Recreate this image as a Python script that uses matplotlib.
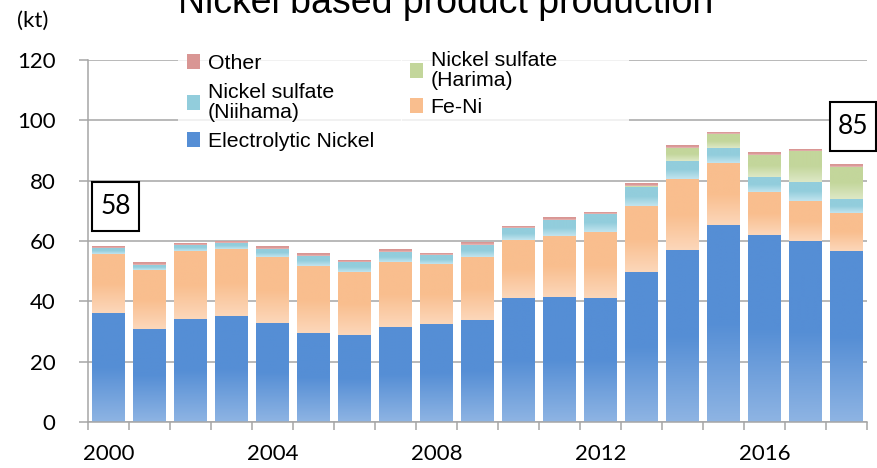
import numpy as np
import matplotlib
matplotlib.use("Agg")
import matplotlib.pyplot as plt
import matplotlib.patches as mpatches

# Production by product, kt
years = list(range(2000, 2019))
electrolytic = [36.2, 30.9, 34.2, 35.2, 32.9, 29.6, 28.9, 31.6, 32.6, 33.9,
                41.1, 41.4, 41.1, 49.8, 57.1, 65.4, 62.1, 60.1, 56.6]
fe_ni = [19.5, 19.5, 22.4, 22.0, 21.7, 22.1, 20.8, 21.6, 19.7, 20.7,
         19.1, 20.4, 21.8, 21.8, 23.3, 20.4, 14.1, 13.0, 12.8]
ns_niihama = [2.0, 1.8, 2.0, 2.1, 2.7, 3.4, 3.3, 3.2, 2.9, 4.0,
              4.1, 5.2, 6.0, 6.2, 6.0, 5.0, 4.9, 6.3, 4.5]
ns_harima = [0.0, 0.0, 0.0, 0.0, 0.0, 0.0, 0.0, 0.0, 0.0, 0.0,
             0.0, 0.0, 0.0, 0.5, 4.5, 4.6, 7.5, 10.4, 10.7]
other = [0.5, 0.7, 0.6, 0.8, 0.9, 0.8, 0.6, 0.8, 0.7, 1.0,
         0.8, 0.8, 0.7, 0.8, 0.9, 0.7, 0.8, 0.6, 0.8]

labels = ["Electrolytic Nickel", "Fe-Ni", "Nickel sulfate\n(Niihama)",
          "Nickel sulfate\n(Harima)", "Other"]
series = [electrolytic, fe_ni, ns_niihama, ns_harima, other]
tick_years = [2000, 2004, 2008, 2012, 2016]
boxed_years = [2000, 2018]

# (top colour, bottom colour) for each series
shades = [("#558ED5", "#8EB4E3"),
          ("#F9BE8E", "#FCD7BA"),
          ("#92CDDC", "#C2E4EE"),
          ("#C3D69B", "#DDE8C6"),
          ("#D99694", "#E8BDBC")]

W, H = 877, 468
fig = plt.figure(figsize=(W / 100, H / 100), dpi=100)
ax = fig.add_axes([88 / W, 1 - 422 / H, (867 - 88) / W, (422 - 60) / H])

GRID = "#A6A6A6"
ax.set_axisbelow(True)
ax.yaxis.grid(True, color=GRID, linewidth=1.1)


def to_rgb(c):
    return np.array(matplotlib.colors.to_rgb(c))


def fill_gradient(patch, top, bottom):
    h = patch.get_height()
    if h <= 0:
        return
    x, y, w = patch.get_x(), patch.get_y(), patch.get_width()
    f = np.linspace(0, 1, 128)
    t = np.clip((f - 0.5) / 0.5, 0, 1)[:, None]
    rgb = (1 - t) * to_rgb(top) + t * to_rgb(bottom)
    im = ax.imshow(rgb[:, None, :], extent=(x, x + w, y, y + h), origin="upper",
                   aspect="auto", interpolation="bilinear", zorder=2)
    im.set_clip_path(patch)


bottom = np.zeros(len(years))
handles = []
for vals, lab, (c_top, c_bot) in zip(series, labels, shades):
    vals = np.asarray(vals, dtype=float)
    bars = ax.bar(years, vals, width=0.79, bottom=bottom, facecolor="none",
                  edgecolor="none", linewidth=0, zorder=2)
    for p in bars.patches:
        fill_gradient(p, c_top, c_bot)
    handles.append(mpatches.Patch(facecolor=c_top, label=lab))
    bottom += vals
totals = bottom

ax.set_xlim(years[0] - 0.5, years[-1] + 0.5)
ax.set_ylim(0, 120)
ax.set_yticks(range(0, 121, 20))
ax.set_xticks(tick_years)
ax.set_xticks([y - 0.5 for y in years] + [years[-1] + 0.5], minor=True)

ax.tick_params(axis="y", length=6.5, width=1.1, color=GRID, pad=17, labelsize=16)
ax.tick_params(axis="x", which="major", length=0, pad=16, labelsize=16)
ax.tick_params(axis="x", which="minor", length=5.5, width=1.1, color=GRID)
for lbl in ax.get_xticklabels() + ax.get_yticklabels():
    lbl.set_fontfamily("Lato")

for s in ("top", "right"):
    ax.spines[s].set_visible(False)
for s in ("left", "bottom"):
    ax.spines[s].set_color(GRID)
    ax.spines[s].set_linewidth(1.1)


# Legend in two separate columns (reverse stacking order)
def make_legend(idx, x0, x1, top, spacing):
    lg = ax.legend([handles[i] for i in idx], [labels[i] for i in idx],
                   loc="upper left", mode="expand",
                   bbox_to_anchor=(x0 / W, 1 - (top + 10) / H, (x1 - x0) / W, 10 / H),
                   bbox_transform=fig.transFigure,
                   borderaxespad=0, borderpad=0.4, frameon=True, fancybox=False,
                   handlelength=0.62, handleheight=0.72, handletextpad=0.38,
                   labelspacing=spacing,
                   prop=dict(family="Liberation Sans", size=15.3))
    lg.get_frame().set_facecolor("white")
    lg.get_frame().set_edgecolor("none")
    lg.set_zorder(5)
    for t in lg.get_texts():
        t.set_linespacing(1.1)
    return lg


leg_left = make_legend([4, 2, 0], 178, 402, 45.5, 0.45)
ax.add_artist(leg_left)
make_legend([3, 1], 401, 629, 42, 0.36)

# Title and unit
fig.text(446 / W, 1 - 13 / H, "Nickel based product production",
         ha="center", va="baseline", family="Liberation Sans", size=27)
fig.text(17 / W, 1 - 21 / H, "(kt)", ha="left", va="center", family="Lato", size=16)

# Boxed totals for first and last year
boxes = {2000: (92, 182, 139, 231), 2018: (830, 102, 876, 151)}
for yr in boxed_years:
    x0, y0, x1, y1 = boxes[yr]
    rect = mpatches.Rectangle((x0 / W, 1 - y1 / H), (x1 - x0) / W, (y1 - y0) / H,
                              transform=fig.transFigure, facecolor="white",
                              edgecolor="black", linewidth=1.5, zorder=6)
    fig.add_artist(rect)
    total = totals[years.index(yr)]
    fig.text((x0 + x1) / 2 / W, 1 - (y0 + y1) / 2 / H, f"{total:.0f}",
             ha="center", va="center", family="Lato", size=19, zorder=7)

fig.savefig("out.png", dpi=100)
